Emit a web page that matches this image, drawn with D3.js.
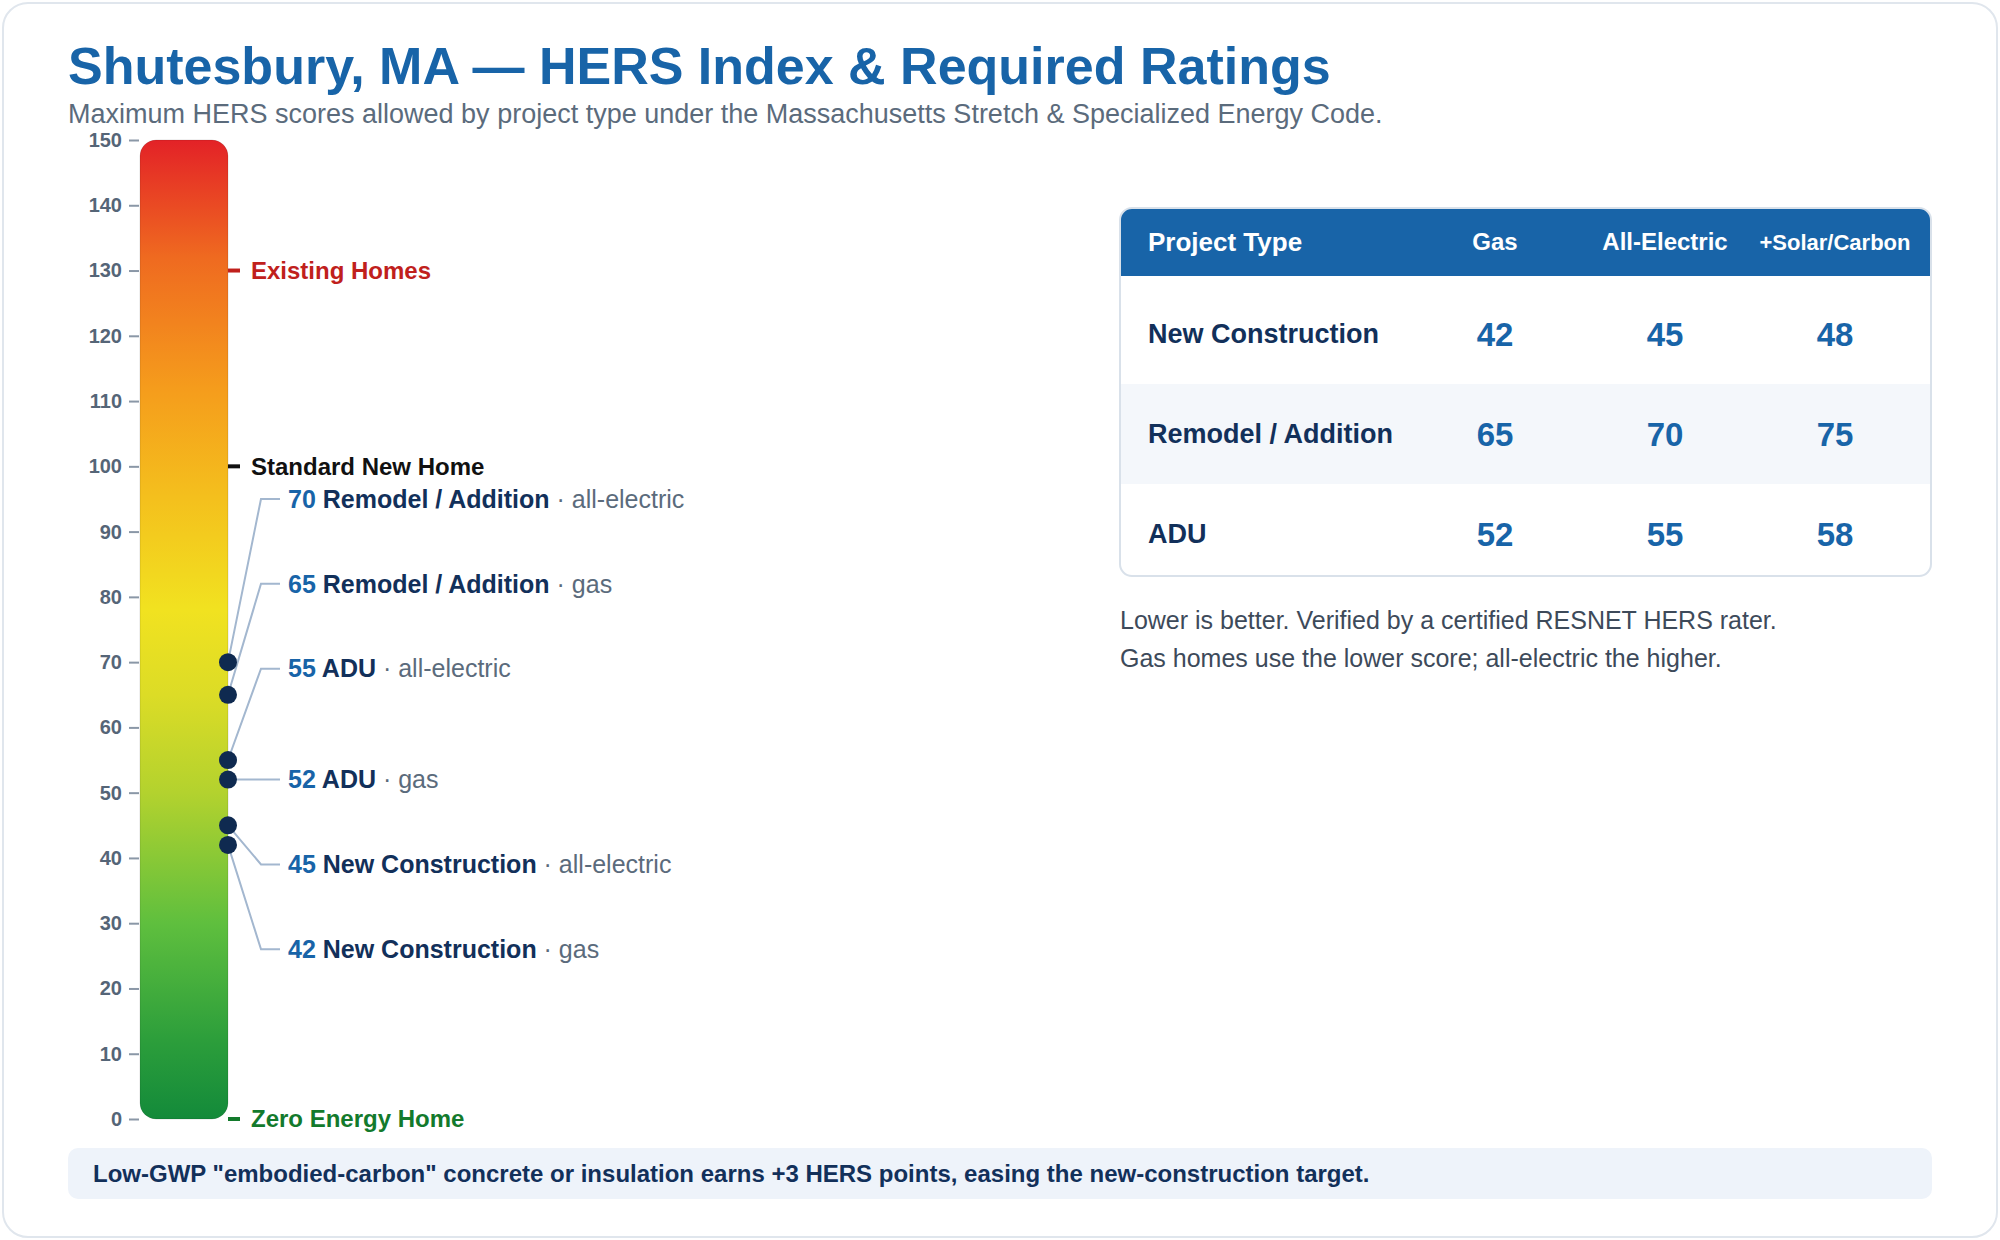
<!DOCTYPE html>
<html>
<head>
<meta charset="utf-8">
<script src="https://cdn.jsdelivr.net/npm/d3@7"></script>
<style>
  body { margin: 0; background: #fff; }
  svg { display: block; font-family: "Liberation Sans", Arial, Helvetica, sans-serif; }
</style>
</head>
<body>
<div id="wrapper"></div>
<script>
// values
const projectTypes = ["New Construction", "Remodel / Addition", "ADU"];
const columns = ["Gas", "All-Electric", "+Solar/Carbon"];
const gasScores = [42, 65, 52];
const electricScores = [45, 70, 55];
const solarScores = [48, 75, 58];
const axisTicks = d3.range(0, 151, 10);
const refLevels = [130, 100, 0];
const refNames = ["Existing Homes", "Standard New Home", "Zero Energy Home"];
const notes = [
    "Lower is better. Verified by a certified RESNET HERS rater.",
    "Gas homes use the lower score; all-electric the higher."
];
const footnote = 'Low-GWP "embodied-carbon" concrete or insulation earns +3 HERS points, easing the new-construction target.';

function drawChart() {
    const dimension = { width: 2000, height: 1240 };
    const blue = "#1864a8";
    const navy = "#12305a";
    const grey = "#5b6b7c";

    const svg = d3.select("#wrapper").append("svg")
        .attr("width", dimension.width)
        .attr("height", dimension.height);

    // card
    svg.append("rect")
        .attr("x", 3).attr("y", 3)
        .attr("width", 1994).attr("height", 1234)
        .attr("rx", 25)
        .attr("fill", "#fff")
        .attr("stroke", "#e0e6ed")
        .attr("stroke-width", 2);

    svg.append("text")
        .attr("x", 68).attr("y", 84)
        .attr("font-size", 52).attr("font-weight", "bold")
        .attr("fill", blue)
        .text("Shutesbury, MA \u2014 HERS Index & Required Ratings");

    svg.append("text")
        .attr("x", 68).attr("y", 123)
        .attr("font-size", 27)
        .attr("fill", grey)
        .text("Maximum HERS scores allowed by project type under the Massachusetts Stretch & Specialized Energy Code.");

    // HERS scale
    const yScaler = d3.scaleLinear().domain([0, 150]).range([1119, 140]);
    const barLeft = 140, barRight = 228;

    const colorStops = [
        [0, "#138a3a"], [12, "#2c9e3b"], [30, "#5fbf3e"], [50, "#b3d22e"],
        [65, "#dcdc26"], [78, "#f1e220"], [95, "#f4c01d"], [112, "#f59c1c"],
        [132, "#ef6a20"], [150, "#e32227"]
    ];
    const grad = svg.append("defs").append("linearGradient")
        .attr("id", "hers")
        .attr("gradientUnits", "userSpaceOnUse")
        .attr("x1", 0).attr("x2", 0)
        .attr("y1", yScaler(0)).attr("y2", yScaler(150));
    grad.selectAll("stop").data(colorStops).join("stop")
        .attr("offset", d => d[0] / 150)
        .attr("stop-color", d => d[1]);

    svg.append("rect")
        .attr("x", barLeft).attr("y", yScaler(150))
        .attr("width", barRight - barLeft)
        .attr("height", yScaler(0) - yScaler(150))
        .attr("rx", 16)
        .attr("fill", "url(#hers)")
        .attr("stroke", "rgba(0,0,0,0.12)")
        .attr("stroke-width", 1);

    const yAxis = d3.axisLeft(yScaler)
        .tickValues(axisTicks)
        .tickSize(10)
        .tickPadding(7);
    const axisG = svg.append("g")
        .attr("transform", "translate(139,0)")
        .call(yAxis);
    axisG.select(".domain").remove();
    axisG.selectAll(".tick line").attr("stroke", "#8a97a6").attr("stroke-width", 2);
    axisG.selectAll(".tick text")
        .attr("fill", "#556577")
        .attr("font-size", 20)
        .attr("font-weight", "bold")
        .attr("font-family", "Liberation Sans, Arial, sans-serif");

    // reference levels
    const refColors = ["#c0201c", "#111111", "#137a2c"];
    const refs = svg.append("g");
    refLevels.forEach((v, i) => {
        refs.append("line")
            .attr("x1", barRight).attr("x2", barRight + 12)
            .attr("y1", yScaler(v)).attr("y2", yScaler(v))
            .attr("stroke", refColors[i]).attr("stroke-width", 4);
        refs.append("text")
            .attr("x", 251).attr("y", yScaler(v))
            .attr("dy", "0.35em")
            .attr("font-size", 24).attr("font-weight", "bold")
            .attr("fill", refColors[i])
            .text(refNames[i]);
    });

    // one point per project type and fuel
    const points = [];
    projectTypes.forEach((p, i) => {
        points.push({ value: gasScores[i], name: p, kind: "gas" });
        points.push({ value: electricScores[i], name: p, kind: "all-electric" });
    });
    points.sort((a, b) => b.value - a.value);

    // labels: top half hangs under the standard-home line, bottom half starts at its own value
    const slot = 13;
    const half = points.length / 2;
    points.forEach((d, i) => {
        if (i < half) d.labelValue = 95 - i * slot;
        else d.labelValue = points[half].value - (i - half) * slot;
    });

    const elbowX = 261, lineEnd = 280, textX = 288;
    svg.append("g").selectAll("path").data(points).join("path")
        .attr("d", d => {
            const ly = yScaler(d.labelValue);
            return `M${barRight},${yScaler(d.value)}L${elbowX},${ly}L${lineEnd},${ly}`;
        })
        .attr("fill", "none")
        .attr("stroke", "#a3b7cf")
        .attr("stroke-width", 2);

    svg.append("g").selectAll("circle").data(points).join("circle")
        .attr("cx", barRight)
        .attr("cy", d => yScaler(d.value))
        .attr("r", 9)
        .attr("fill", "#0f2a50");

    const labels = svg.append("g").selectAll("text").data(points).join("text")
        .attr("x", textX)
        .attr("y", d => yScaler(d.labelValue))
        .attr("dy", "0.35em")
        .attr("font-size", 25);
    labels.append("tspan").attr("font-weight", "bold").attr("fill", blue).text(d => d.value);
    labels.append("tspan").attr("font-weight", "bold").attr("fill", navy).text(d => " " + d.name);
    labels.append("tspan").attr("fill", grey).text(d => " \u00b7 " + d.kind);

    // table
    const tLeft = 1120, tRight = 1931, tTop = 208, tBottom = 576, headBottom = 276;
    const rowScaler = d3.scaleBand().domain(projectTypes).range([284, 584]);
    const colScaler = d3.scalePoint().domain(columns).range([1495, 1835]);
    const table = svg.append("g");

    table.append("clipPath").attr("id", "tableClip")
        .append("rect")
        .attr("x", tLeft).attr("y", tTop)
        .attr("width", tRight - tLeft).attr("height", tBottom - tTop)
        .attr("rx", 12);

    const body = table.append("g").attr("clip-path", "url(#tableClip)");
    body.append("rect")
        .attr("x", tLeft).attr("y", tTop)
        .attr("width", tRight - tLeft).attr("height", tBottom - tTop)
        .attr("fill", "#fff");
    body.selectAll(".band").data(projectTypes.filter((d, i) => i % 2 === 1)).join("rect")
        .attr("x", tLeft).attr("y", d => rowScaler(d))
        .attr("width", tRight - tLeft).attr("height", rowScaler.bandwidth())
        .attr("fill", "#f4f7fb");
    body.append("rect")
        .attr("x", tLeft).attr("y", tTop)
        .attr("width", tRight - tLeft).attr("height", headBottom - tTop)
        .attr("fill", blue);

    table.append("rect")
        .attr("x", tLeft).attr("y", tTop)
        .attr("width", tRight - tLeft).attr("height", tBottom - tTop)
        .attr("rx", 12)
        .attr("fill", "none")
        .attr("stroke", "#d9e1ea")
        .attr("stroke-width", 2);

    const headY = (tTop + headBottom) / 2;
    table.append("text")
        .attr("x", 1148).attr("y", headY).attr("dy", "0.35em")
        .attr("font-size", 26).attr("font-weight", "bold").attr("fill", "#fff")
        .text("Project Type");
    table.selectAll(".colhead").data(columns).join("text")
        .attr("x", d => colScaler(d)).attr("y", headY).attr("dy", "0.35em")
        .attr("text-anchor", "middle")
        .attr("font-size", (d, i) => i === 2 ? 22 : 24)
        .attr("font-weight", "bold").attr("fill", "#fff")
        .text(d => d);

    table.selectAll(".rowname").data(projectTypes).join("text")
        .attr("x", 1148)
        .attr("y", d => rowScaler(d) + rowScaler.bandwidth() / 2)
        .attr("dy", "0.35em")
        .attr("font-size", 27).attr("font-weight", "bold").attr("fill", navy)
        .text(d => d);

    const cells = [];
    projectTypes.forEach((p, i) => {
        [gasScores[i], electricScores[i], solarScores[i]].forEach((v, j) => {
            cells.push({ row: p, col: columns[j], value: v });
        });
    });
    table.selectAll(".cell").data(cells).join("text")
        .attr("x", d => colScaler(d.col))
        .attr("y", d => rowScaler(d.row) + rowScaler.bandwidth() / 2)
        .attr("dy", "0.35em")
        .attr("text-anchor", "middle")
        .attr("font-size", 33).attr("font-weight", "bold").attr("fill", blue)
        .text(d => d.value);

    svg.append("g").selectAll("text").data(notes).join("text")
        .attr("x", tLeft)
        .attr("y", (d, i) => 620 + i * 38)
        .attr("dy", "0.35em")
        .attr("font-size", 25)
        .attr("fill", "#3d4a5a")
        .text(d => d);

    // footnote strip
    svg.append("rect")
        .attr("x", 68).attr("y", 1148)
        .attr("width", 1864).attr("height", 51)
        .attr("rx", 10)
        .attr("fill", "#eef3fa");
    svg.append("text")
        .attr("x", 93).attr("y", 1173.5).attr("dy", "0.35em")
        .attr("font-size", 24).attr("font-weight", "bold").attr("fill", navy)
        .text(footnote);
}

drawChart();
</script>
</body>
</html>
